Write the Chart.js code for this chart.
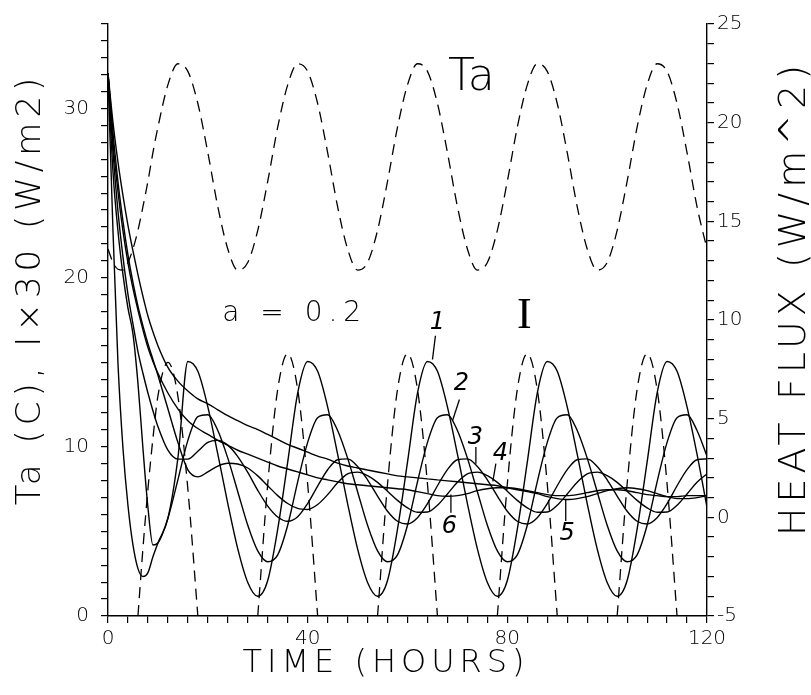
<!DOCTYPE html>
<html lang="en">
<head>
  <meta charset="UTF-8" />
  <title>Heat flux response, a = 0.2</title>
  <script src="https://cdn.jsdelivr.net/npm/chart.js"></script>
  <style>
    html, body {
      margin: 0;
      padding: 0;
      background: #fff;
    }

    #wrap {
      position: relative;
      width: 811px;
      height: 695px;
    }
  </style>
</head>
<body>

  <div id="wrap">
    <canvas id="fluxChart"></canvas>
  </div>

  <script>
    // time grid (hours)
    const hours = [0, 1, 2, 3, 4, 5, 6, 7, 8, 9, 10,
      12, 14, 16, 18, 20, 22, 24, 26, 28, 30, 32, 34, 36, 38, 40, 42, 44, 46, 48, 50,
      52, 54, 56, 58, 60, 62, 64, 66, 68, 70, 72, 74, 76, 78, 80, 82, 84, 86, 88, 90,
      92, 94, 96, 98, 100, 102, 104, 106, 108, 110, 112, 114, 116, 118, 120];

    // air temperature Ta (C), left axis
    const airTemp = [21.7, 20.9, 20.5, 20.45, 20.9, 21.7, 22.8, 24.2, 25.7, 27.4, 28.9,
      31.4, 32.65, 32.2, 30.3, 27.4, 24.2, 21.7, 20.45, 20.9, 22.8, 25.7, 28.9, 31.4, 32.65, 32.2, 30.3, 27.4, 24.2, 21.7, 20.45,
      20.9, 22.8, 25.7, 28.9, 31.4, 32.65, 32.2, 30.3, 27.4, 24.2, 21.7, 20.45, 20.9, 22.8, 25.7, 28.9, 31.4, 32.65, 32.2, 30.3,
      27.4, 24.2, 21.7, 20.45, 20.9, 22.8, 25.7, 28.9, 31.4, 32.65, 32.2, 30.3, 27.4, 24.2, 21.7];

    // radiation I x 30, left axis (null = night, no line)
    const radiation = [null, null, null, null, null, null, 0, 4.0, 7.5, 10.5, 13.0,
      15.0, 13.0, 7.5, 0, null, null, null, null, null, 0, 7.8, 13.4, 15.5, 13.4, 7.8, 0, null, null, null, null,
      null, 0, 7.8, 13.4, 15.5, 13.4, 7.8, 0, null, null, null, null, null, 0, 7.8, 13.4, 15.5, 13.4, 7.8, 0,
      null, null, null, null, null, 0, 7.8, 13.4, 15.5, 13.4, 7.8, 0, null, null, null];

    // heat flux curves 1..6 (W/m^2), right axis
    const flux1 = [22.5, 14.5, 7.8, 3.5, 0.6, -1.4, -2.6, -3.0, -2.8, -2.0, -1.3,
      -0.05, 3.0, 7.9, 7.4, 5.6, 3.2, 0.7, -1.6, -3.3, -4.0, -3.2, -0.6, 2.8, 6.3, 7.9, 7.4, 5.6, 3.2, 0.7, -1.6,
      -3.3, -4.0, -3.2, -0.6, 2.8, 6.3, 7.9, 7.4, 5.6, 3.2, 0.7, -1.6, -3.3, -4.0, -3.2, -0.6, 2.8, 6.3, 7.9, 7.4,
      5.6, 3.2, 0.7, -1.6, -3.3, -4.0, -3.2, -0.6, 2.8, 6.3, 7.9, 7.4, 5.6, 3.2, 0.5];
    const flux2 = [22.5, 17.5, 14.5, 12.3, 10.6, 9.3, 6.8, 3.5, 0.5, -1.4, -1.3,
      -0.05, 1.9, 3.9, 5.1, 5.2, 4.4, 3.0, 1.3, -0.4, -1.7, -2.25, -1.9, -0.4, 1.8, 3.8, 5.05, 5.2, 4.4, 3.0, 1.3,
      -0.4, -1.7, -2.25, -1.9, -0.4, 1.8, 3.8, 5.05, 5.2, 4.4, 3.0, 1.3, -0.4, -1.7, -2.25, -1.9, -0.4, 1.8, 3.8, 5.05,
      5.2, 4.4, 3.0, 1.3, -0.4, -1.7, -2.25, -1.9, -0.4, 1.8, 3.8, 5.05, 5.2, 4.4, 3.1];
    const flux3 = [22.5, 18.5, 15.5, 13.2, 11.3, 9.8, 8.4, 7.3, 6.3, 5.4, 4.6,
      3.4, 2.95, 2.95, 3.35, 3.8, 3.9, 3.66, 3.08, 2.28, 1.37, 0.57, 0.02, -0.2, 0.03, 0.7, 1.58, 2.41, 2.92, 2.96, 2.58,
      1.9, 1.08, 0.31, -0.2, -0.34, -0.02, 0.69, 1.6, 2.42, 2.92, 2.96, 2.58, 1.9, 1.08, 0.31, -0.2, -0.34, -0.02, 0.69, 1.6,
      2.42, 2.92, 2.96, 2.58, 1.9, 1.08, 0.31, -0.2, -0.34, -0.02, 0.69, 1.6, 2.42, 2.92, 2.96];
    const flux4 = [22.5, 19.5, 17.0, 15.0, 13.3, 11.9, 10.7, 9.7, 8.8, 8.0, 7.2,
      5.5, 3.8, 2.4, 2.05, 2.3, 2.6, 2.74, 2.7, 2.5, 2.1, 1.6, 1.1, 0.7, 0.45, 0.4, 0.65, 1.15, 1.75, 2.2, 2.29,
      2.11, 1.77, 1.32, 0.86, 0.48, 0.26, 0.27, 0.61, 1.18, 1.78, 2.2, 2.29, 2.11, 1.77, 1.32, 0.86, 0.48, 0.26, 0.27, 0.61,
      1.18, 1.78, 2.2, 2.29, 2.11, 1.77, 1.32, 0.86, 0.48, 0.26, 0.27, 0.61, 1.18, 1.78, 2.2];
    const flux5 = [22.5, 20.0, 18.0, 16.3, 14.8, 13.5, 12.3, 11.2, 10.2, 9.4, 8.7,
      7.6, 6.9, 6.4, 6.0, 5.75, 5.45, 5.15, 4.9, 4.65, 4.45, 4.2, 3.95, 3.7, 3.5, 3.3, 3.1, 2.95, 2.75, 2.6, 2.5,
      2.4, 2.3, 2.2, 2.1, 2.05, 2.0, 1.95, 1.9, 1.85, 1.8, 1.75, 1.7, 1.65, 1.6, 1.5, 1.4, 1.3, 1.2, 1.05, 0.95,
      0.9, 0.95, 1.05, 1.2, 1.35, 1.45, 1.5, 1.45, 1.35, 1.2, 1.05, 0.95, 0.95, 1.0, 1.1];
    const flux6 = [22.5, 19.0, 16.5, 14.5, 12.9, 11.6, 10.5, 9.5, 8.6, 7.9, 7.3,
      6.3, 5.5, 4.9, 4.5, 4.2, 3.9, 3.65, 3.4, 3.2, 3.0, 2.8, 2.6, 2.45, 2.3, 2.15, 2.0, 1.9, 1.8, 1.7, 1.65,
      1.6, 1.55, 1.5, 1.45, 1.4, 1.3, 1.2, 1.1, 1.07, 1.1, 1.2, 1.35, 1.45, 1.5, 1.5, 1.45, 1.35, 1.25, 1.15, 1.1,
      1.1, 1.15, 1.25, 1.35, 1.4, 1.4, 1.35, 1.25, 1.15, 1.1, 1.05, 1.05, 1.1, 1.1, 1.1];

    // labelled tick values
    const xTickLabels = [0, 40, 80, 120];
    const leftTickLabels = [0, 10, 20, 30];
    const rightTickLabels = [-5, 0, 5, 10, 15, 20, 25];

    // curve numbers and their pointer lines, in (hours, heat flux) units
    const curveNotes = [
      { text: '1', at: [66.0, 9.85], from: [65.6, 9.2], to: [65.0, 8.0] },
      { text: '2', at: [70.8, 6.78], from: [70.4, 5.97], to: [69.0, 4.88] },
      { text: '3', at: [73.6, 4.01], from: [73.7, 3.56], to: [73.7, 2.72] },
      { text: '4', at: [78.6, 3.23], from: [77.7, 2.72], to: [77.1, 1.82] },
      { text: '6', at: [68.4, -0.48], from: [68.7, 0.23], to: [68.7, 1.16] },
      { text: '5', at: [92.0, -0.84], from: [91.7, -0.19], to: [91.7, 0.9] }
    ];

    const FONT = "'DejaVu Sans', 'Liberation Sans', sans-serif";
    const SERIF = "'Liberation Serif', 'DejaVu Serif', serif";

    const toPoints = values => hours.map((h, i) => ({ x: h, y: values[i] }));

    function solid(values) {
      return {
        data: toPoints(values),
        yAxisID: 'yR',
        borderColor: '#000',
        borderWidth: 1.4,
        pointRadius: 0,
        fill: false,
        cubicInterpolationMode: 'monotone'
      };
    }

    const annotate = {
      id: 'annotate',
      afterDraw(chart) {
        const { ctx } = chart;
        const { x, yL, yR } = chart.scales;
        ctx.save();
        ctx.fillStyle = '#000';
        ctx.strokeStyle = '#000';
        ctx.textAlign = 'center';
        ctx.textBaseline = 'middle';

        // text inside the plot
        ctx.font = `200 44px ${FONT}`;
        ctx.fillText('Ta', x.getPixelForValue(72.8), yL.getPixelForValue(31.8));
        ctx.font = `44px ${SERIF}`;
        ctx.fillText('I', x.getPixelForValue(83.4), yL.getPixelForValue(17.7));
        ctx.font = `200 28px ${FONT}`;
        ctx.letterSpacing = '6px';
        ctx.fillText('a = 0.2', x.getPixelForValue(37.4), yL.getPixelForValue(17.85));
        ctx.letterSpacing = '0px';

        // curve numbers
        ctx.font = `italic 200 24px ${FONT}`;
        ctx.lineWidth = 1.3;
        curveNotes.forEach(n => {
          ctx.fillText(n.text, x.getPixelForValue(n.at[0]), yR.getPixelForValue(n.at[1]));
          ctx.beginPath();
          ctx.moveTo(x.getPixelForValue(n.from[0]), yR.getPixelForValue(n.from[1]));
          ctx.lineTo(x.getPixelForValue(n.to[0]), yR.getPixelForValue(n.to[1]));
          ctx.stroke();
        });

        // axis titles
        ctx.letterSpacing = '5px';
        ctx.font = `200 34px ${FONT}`;
        ctx.save();
        ctx.translate(31, 289);
        ctx.rotate(-Math.PI / 2);
        ctx.fillText('Ta (C), I\u00d730 (W/m2)', 0, 0);
        ctx.restore();

        ctx.font = `200 38px ${FONT}`;
        ctx.save();
        ctx.translate(795, 298);
        ctx.rotate(-Math.PI / 2);
        ctx.fillText('HEAT FLUX (W/m^2)', 0, 0);
        ctx.restore();

        ctx.font = `200 32px ${FONT}`;
        ctx.fillText('TIME (HOURS)', 386, 664);
        ctx.restore();
      }
    };

    const tickFont = { family: FONT, size: 20, weight: '200' };
    const axisLine = { display: true, color: '#000', width: 1.4 };
    const tickGrid = { drawOnChartArea: false, color: '#000', tickColor: '#000', tickLength: 7, lineWidth: 1.2 };

    new Chart(document.getElementById('fluxChart'), {
      type: 'line',
      data: {
        datasets: [
          {
            data: toPoints(airTemp),
            yAxisID: 'yL',
            borderColor: '#000',
            borderWidth: 1.3,
            borderDash: [11, 7],
            pointRadius: 0,
            fill: false,
            cubicInterpolationMode: 'monotone'
          },
          {
            data: toPoints(radiation),
            yAxisID: 'yL',
            borderColor: '#000',
            borderWidth: 1.3,
            borderDash: [11, 7],
            pointRadius: 0,
            fill: false,
            spanGaps: false,
            cubicInterpolationMode: 'monotone'
          },
          solid(flux1),
          solid(flux2),
          solid(flux3),
          solid(flux4),
          solid(flux5),
          solid(flux6)
        ]
      },
      options: {
        responsive: true,
        maintainAspectRatio: false,
        animation: false,
        layout: { padding: { top: 18, left: 0, right: 0, bottom: 0 } },
        plugins: {
          legend: { display: false },
          tooltip: { enabled: false }
        },
        scales: {
          x: {
            type: 'linear',
            min: 0,
            max: 120,
            border: axisLine,
            grid: tickGrid,
            ticks: {
              stepSize: 4,
              autoSkip: false,
              maxRotation: 0,
              color: '#000',
              font: tickFont,
              padding: 4,
              callback: v => xTickLabels.includes(v) ? String(v) : ''
            },
            afterFit: s => { s.height = 79; }
          },
          yL: {
            position: 'left',
            min: 0,
            max: 35,
            border: axisLine,
            grid: tickGrid,
            ticks: {
              stepSize: 1,
              autoSkip: false,
              color: '#000',
              font: tickFont,
              padding: 12,
              callback: v => leftTickLabels.includes(v) ? String(v) : ''
            },
            afterFit: s => { s.width = 108; }
          },
          yR: {
            position: 'right',
            min: -5,
            max: 25,
            border: axisLine,
            grid: tickGrid,
            ticks: {
              stepSize: 1,
              autoSkip: false,
              color: '#000',
              font: tickFont,
              padding: 3,
              callback: v => rightTickLabels.includes(v) ? String(v) : ''
            },
            afterFit: s => { s.width = 104; }
          }
        }
      },
      plugins: [annotate]
    });
  </script>

</body>
</html>
